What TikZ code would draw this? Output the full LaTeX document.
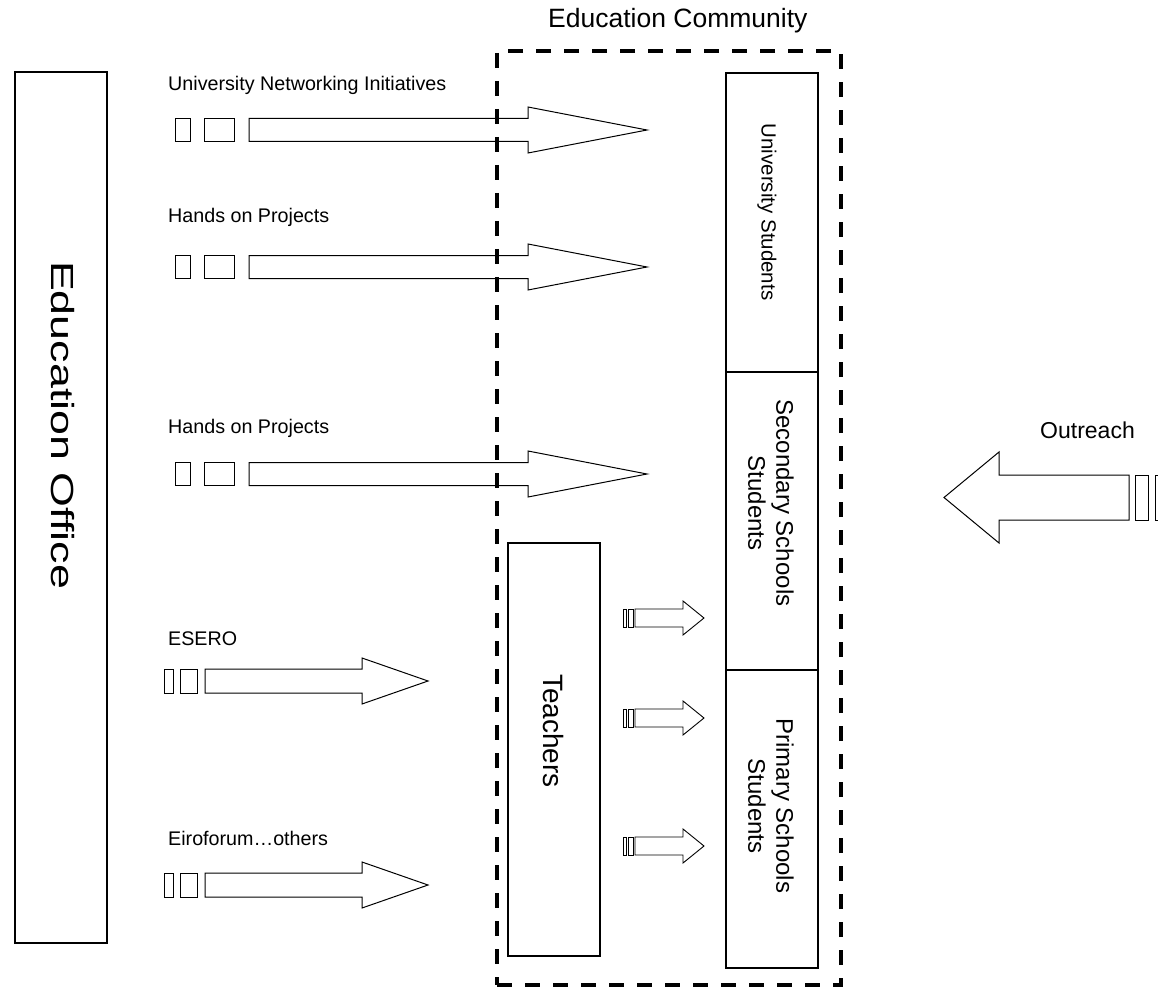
\documentclass[tikz,border=0pt]{standalone}
\usepackage{fontspec}
\setmainfont{Liberation Sans}
\begin{document}
\begin{tikzpicture}[x=1pt,y=-1pt,
  box/.style={draw=black, line width=1.3pt, fill=white, inner sep=0pt},
  shp/.style={draw=black, line width=1pt, fill=white, line join=miter},
  lbl/.style={font=\fontsize{19.7}{23}\selectfont, anchor=base west, inner sep=0pt},
  vtxt/.style={rotate=-90, align=center, inner sep=0pt},
  zone/.style={draw=black, line width=4.5pt, dash pattern=on 15pt off 13pt, inner sep=0pt}]
\clip (0,0) rectangle (1158,992);
\fill[white] (0,0) rectangle (1158,992);

% boxes
\node[box, minimum width=92pt, minimum height=871pt] (office) at (61,507.5) {};
\node[box, minimum width=92pt, minimum height=299pt] (univ) at (772,222.5) {};
\node[box, minimum width=92pt, minimum height=298pt] (sec) at (772,521) {};
\node[box, minimum width=92pt, minimum height=298pt] (prim) at (772,819) {};
\node[box, minimum width=92pt, minimum height=413pt] (teach) at (554,749.5) {};

% box texts
\node[vtxt, font=\fontsize{32}{38}\selectfont] (officeT) at (63,425) {\scalebox{1.4}[1]{Education Office}};
\node[vtxt, font=\fontsize{20.5}{27}\selectfont] (univT) at (767,212) {University Students};
\node[vtxt, font=\fontsize{24}{28}\selectfont] (secT) at (771,503) {Secondary Schools\\Students};
\node[vtxt, font=\fontsize{24}{28}\selectfont] (primT) at (771,806) {Primary Schools\\Students};
\node[vtxt, font=\fontsize{28}{32}\selectfont] (teachT) at (553,731) {Teachers};

% large striped arrows (rows 1-3)
\foreach \y in {130,267,474} {
  \draw[shp] (175,\y-11.5) rectangle (190,\y+11.5);
  \draw[shp] (204,\y-11.5) rectangle (234,\y+11.5);
  \draw[shp] (249,\y-11.5) -- (528,\y-11.5) -- (528,\y-23) -- (647,\y)
     -- (528,\y+23) -- (528,\y+11.5) -- (249,\y+11.5) -- cycle;
}
% ESERO / Eiroforum arrows
\foreach \y in {681,885} {
  \draw[shp] (164,\y-12) rectangle (173,\y+12);
  \draw[shp] (180,\y-12) rectangle (197,\y+12);
  \draw[shp] (205,\y-12) -- (362,\y-12) -- (362,\y-23) -- (428,\y)
     -- (362,\y+23) -- (362,\y+12) -- (205,\y+12) -- cycle;
}
% small arrows teachers -> students
\foreach \y in {618,718,846} {
  \draw[shp, line width=0.9pt] (623,\y-9) rectangle (626,\y+9);
  \draw[shp, line width=0.9pt] (628,\y-9) rectangle (633,\y+9);
  \draw[shp, line width=0.9pt] (635,\y-9) -- (683,\y-9) -- (683,\y-17) -- (704,\y)
     -- (683,\y+17) -- (683,\y+9) -- (635,\y+9) -- cycle;
}
% outreach arrow
\draw[shp] (1129,475) -- (999,475) -- (999,452) -- (944,497.5) -- (999,543)
   -- (999,520) -- (1129,520) -- cycle;
\draw[shp] (1135,475) rectangle (1148,520);
\draw[shp] (1155,475) rectangle (1170,520);

% labels
\node[lbl] (t1) at (168,91) {University Networking Initiatives};
\node[lbl] (t2) at (168,223) {Hands on Projects};
\node[lbl] (t3) at (168,433) {Hands on Projects};
\node[lbl] (t4) at (168,645) {ESERO};
\node[lbl] (t5) at (168,845) {Eiroforum…others};
\node[font=\fontsize{23}{27}\selectfont, anchor=base west, inner sep=0pt] (out) at (1040,438) {Outreach};

% education community zone
\node[zone, minimum width=344pt, minimum height=934pt] (community) at (669,518) {};
\node[font=\fontsize{26.5}{30}\selectfont, anchor=base west, inner sep=0pt] (commT) at (548,28) {Education Community};
\end{tikzpicture}
\end{document}
